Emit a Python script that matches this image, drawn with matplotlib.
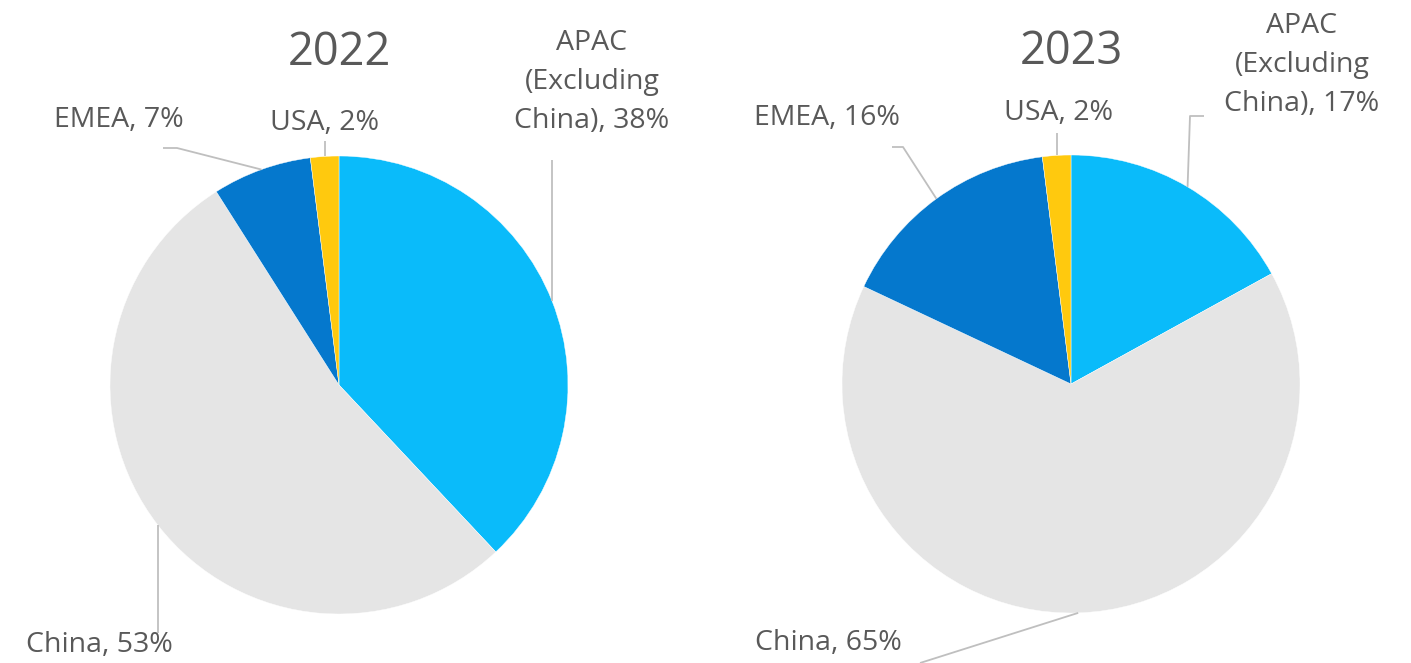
import matplotlib
matplotlib.use("Agg")
import matplotlib.pyplot as plt
import numpy as np

# ---- data ----
categories = ["APAC\n(Excluding\nChina)", "China", "EMEA", "USA"]
values_2022 = [38, 53, 7, 2]
values_2023 = [17, 65, 16, 2]
years = ["2022", "2023"]
colors = ["#0ABBFA", "#E5E5E5", "#0578CD", "#FFC90E"]

plt.rcParams['font.family'] = ['Open Sans', 'DejaVu Sans']
TEXT = "#595959"
LINE = "#BFBFBF"

W, H = 1411, 663
fig = plt.figure(figsize=(W / 100, H / 100), dpi=100)
ax = fig.add_axes([0, 0, 1, 1])


def P(x, y):
    """pixel (top-left origin) -> data coords"""
    return x, H - y


R = 229
centers = [P(339, 385), P(1071, 384)]
title_pos = [P(339, 53), P(1071, 52)]

# label centres (pixel layout)
label_pos = [
    [P(592, 82), P(99, 645), P(119, 120), P(324, 123)],
    [P(1302, 65), P(828, 643), P(827, 118), P(1059, 113)],
]
# leader paths after the wedge edge point
leaders = [
    [("v", 160), ("v", 633), ("p", [P(177, 148), P(163, 148)]), ("v", 141)],
    [("p", [P(1190, 116), P(1204, 116)]), ("p", [P(920, 663)]),
     ("p", [P(903, 147), P(892, 147)]), ("v", 133)],
]


def edge_point(center, r, values, i):
    total = float(sum(values))
    cum = sum(values[:i]) + values[i] / 2.0
    ang = np.deg2rad(90 - 360 * cum / total)
    return center[0] + r * np.cos(ang), center[1] + r * np.sin(ang)


for k, vals in enumerate([values_2022, values_2023]):
    c = centers[k]
    ax.pie(vals, colors=colors, startangle=90, counterclock=False,
           center=c, radius=R, frame=True,
           wedgeprops=dict(edgecolor="white", linewidth=0.3))
    ax.text(*title_pos[k], years[k], ha="center", va="center",
            fontsize=32.5, color=TEXT)
    for i, (name, v) in enumerate(zip(categories, vals)):
        ex, ey = edge_point(c, R, vals, i)
        kind, spec = leaders[k][i]
        if kind == "v":
            xs = [ex, ex]
            ys = [ey, H - spec]
        else:
            xs = [ex] + [p[0] for p in spec]
            ys = [ey] + [p[1] for p in spec]
        ax.plot(xs, ys, color=LINE, lw=1.3, solid_capstyle="butt", zorder=1)
        ax.text(*label_pos[k][i], f"{name}, {v}%", ha="center", va="center",
                fontsize=20.5, color=TEXT, linespacing=1.52,
                multialignment="center")

ax.set_xlim(0, W)
ax.set_ylim(0, H)
ax.set_aspect("equal")
ax.axis("off")

fig.savefig("out.png", dpi=100, facecolor="white")
